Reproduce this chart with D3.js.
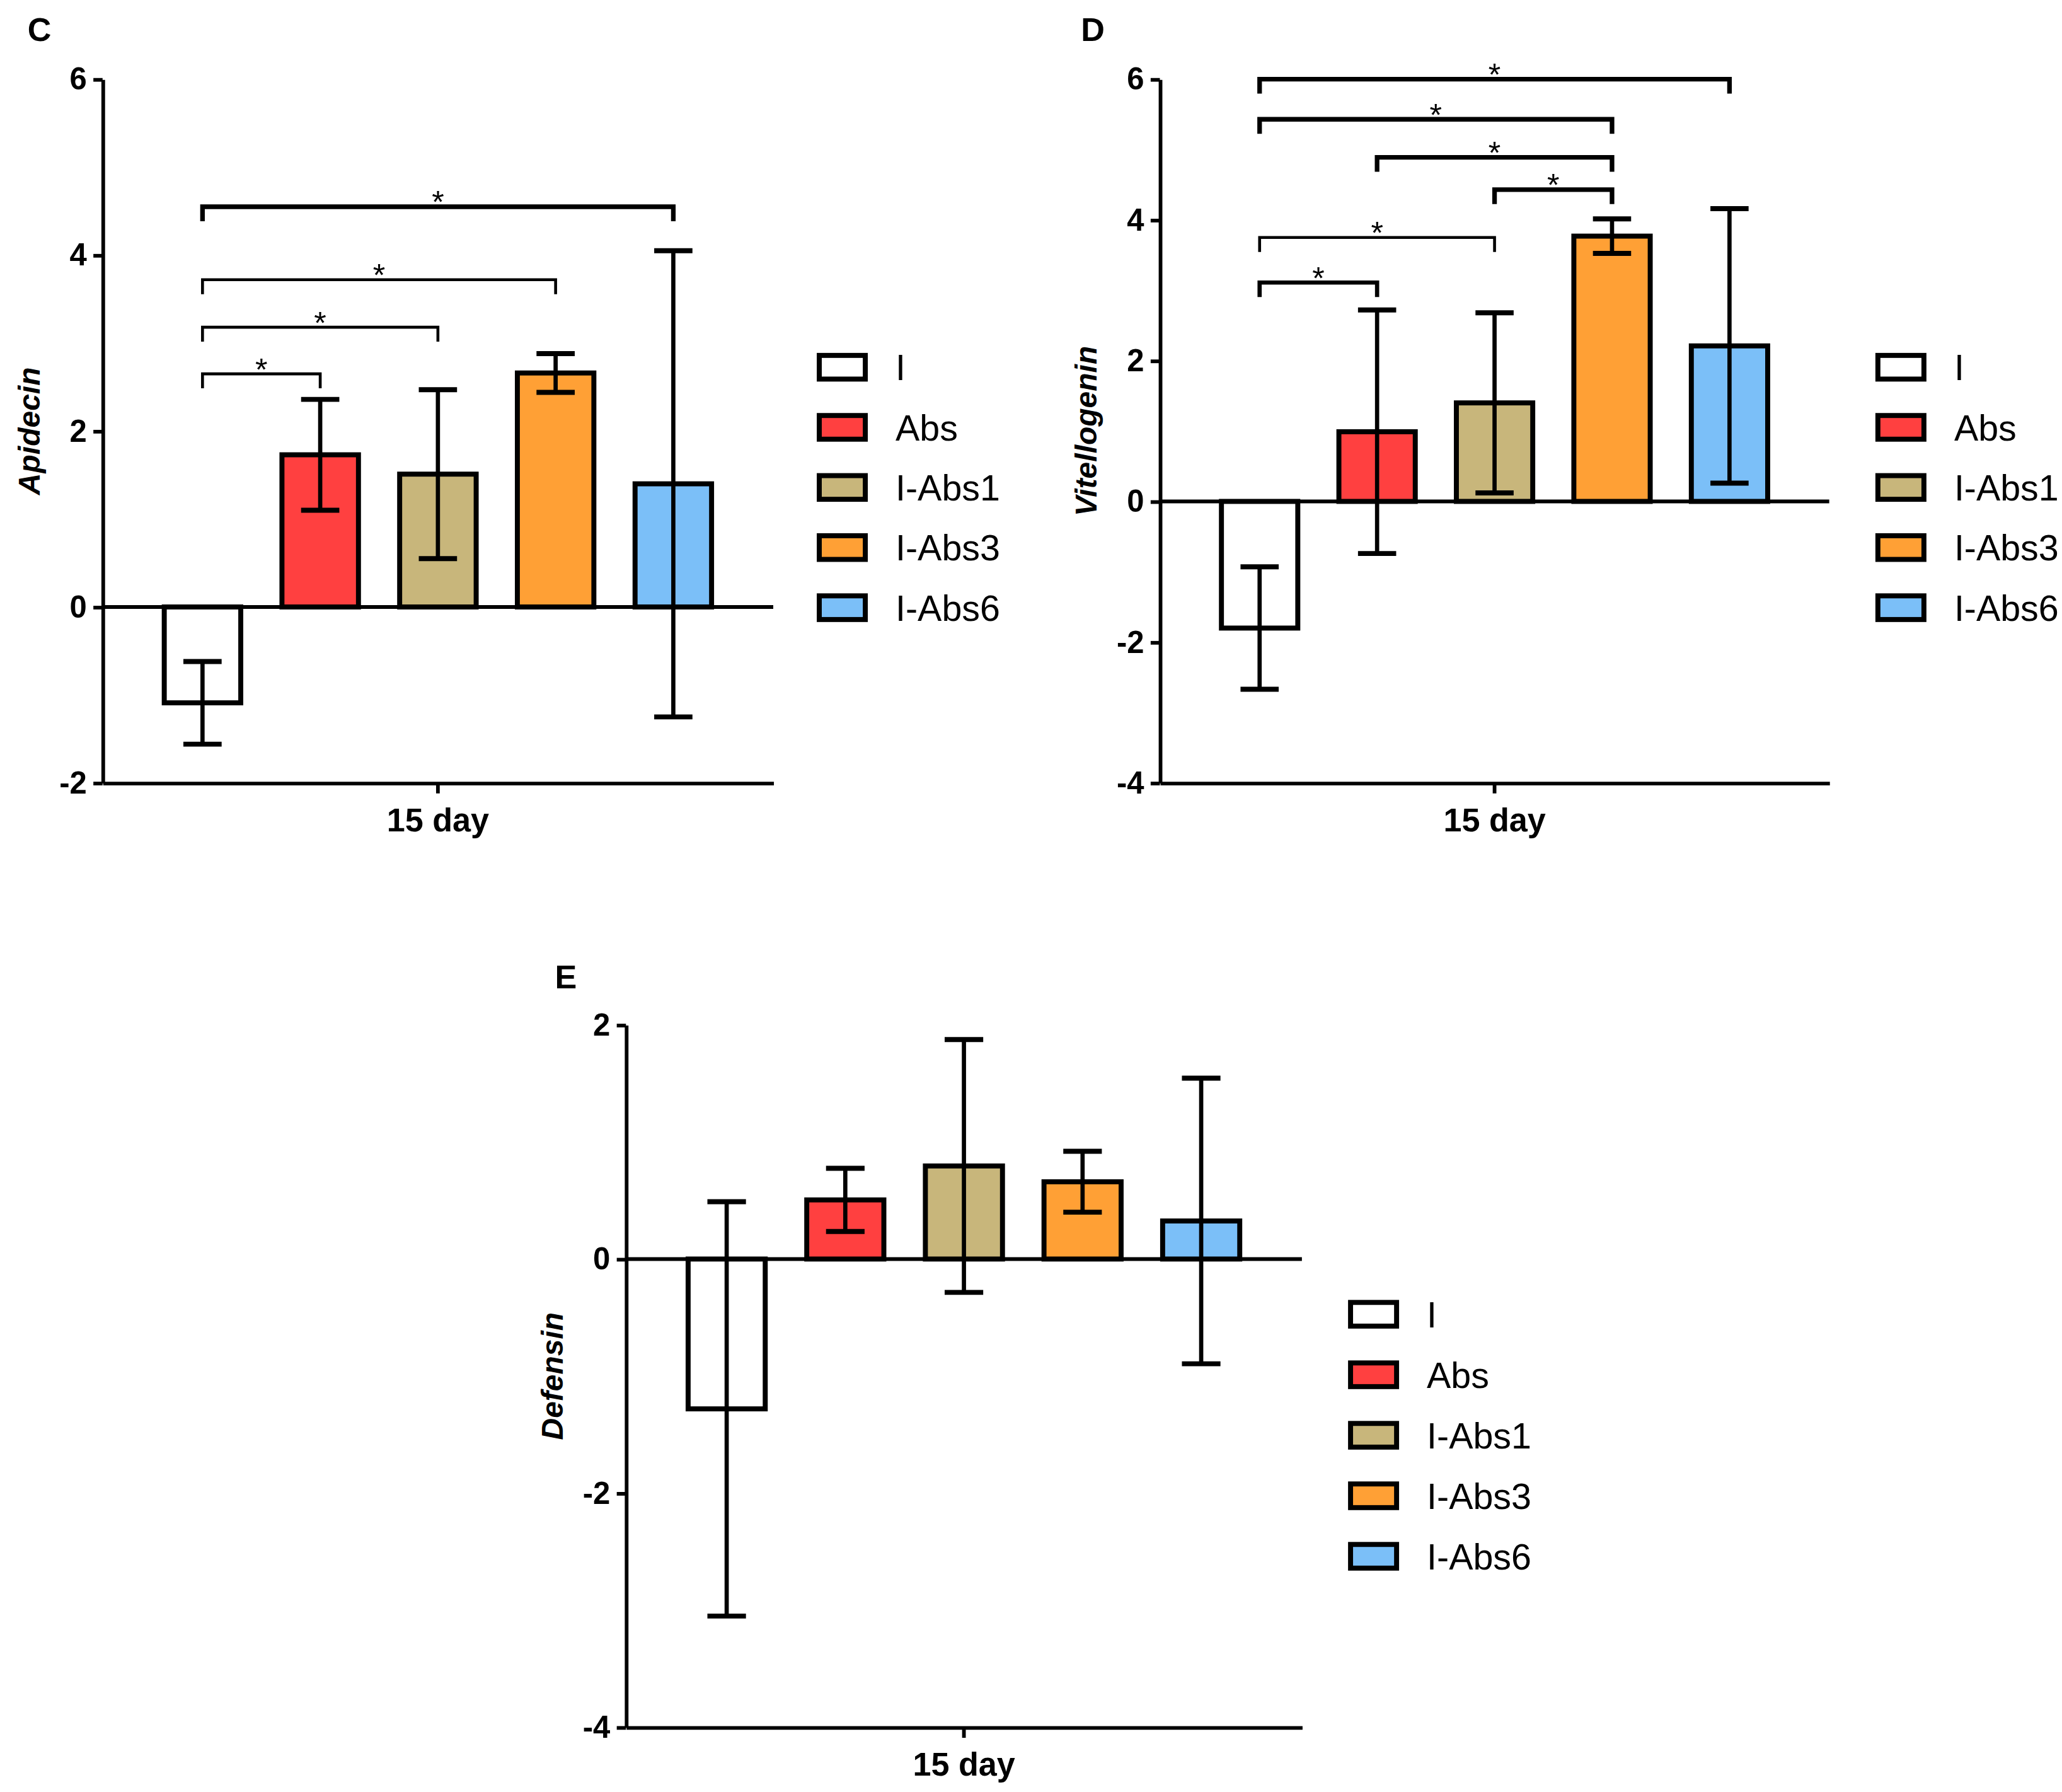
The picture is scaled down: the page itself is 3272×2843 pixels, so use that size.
<!DOCTYPE html>
<html>
<head>
<meta charset="utf-8">
<script src="https://cdn.jsdelivr.net/npm/d3@7/dist/d3.min.js"></script>
<style>
  body { margin: 0; background: #fff; }
  text { font-family: "Liberation Sans", Arial, sans-serif; fill: #000; }
</style>
</head>
<body>
<div id="chart"></div>
<script>
// groups and their fills, shared by the three panels
const groups = ["I", "Abs", "I-Abs1", "I-Abs3", "I-Abs6"];
const groupColors = ["#ffffff", "#ff4040", "#c8b67b", "#ffa035", "#7bbff8"];
const dayLabel = "15 day";

// C - Apidecin
const apidecinMean = [-1.09, 1.73, 1.51, 2.66, 1.40];
const apidecinErr = [0.47, 0.63, 0.96, 0.22, 2.65];
const apidecinTicks = [-2, 0, 2, 4, 6];
const apidecinBrackets = [
  ["I", "Abs", 2.65],
  ["I", "I-Abs1", 3.18],
  ["I", "I-Abs3", 3.72],
  ["I", "I-Abs6", 4.55],
];

// D - Vitellogenin
const vitellogeninMean = [-1.80, 0.99, 1.40, 3.77, 2.21];
const vitellogeninErr = [0.87, 1.73, 1.28, 0.245, 1.95];
const vitellogeninTicks = [-4, -2, 0, 2, 4, 6];
const vitellogeninBrackets = [
  ["I", "Abs", 3.11],
  ["I", "I-Abs1", 3.75],
  ["I-Abs1", "I-Abs3", 4.43],
  ["Abs", "I-Abs3", 4.89],
  ["I", "I-Abs3", 5.43],
  ["I", "I-Abs6", 6.0],
];

// E - Defensin
const defensinMean = [-1.28, 0.505, 0.795, 0.66, 0.325];
const defensinErr = [1.77, 0.27, 1.08, 0.26, 1.22];
const defensinTicks = [-4, -2, 0, 2];
const defensinBrackets = [];

// drawing is done in a 1568x1362 box, scaled up to the page
const W = 1568, H = 1362;
const svg = d3.select("#chart")
  .append("svg")
  .attr("width", 3272)
  .attr("height", 2843)
  .attr("viewBox", `0 0 ${W} ${H}`);

const color = d3.scaleOrdinal().domain(groups).range(groupColors);

function drawPanel(p) {
  const g = svg.append("g");

  const y = d3.scaleLinear()
    .domain(d3.extent(p.ticks))
    .range([p.bottom, p.top]);
  const x = d3.scaleBand()
    .domain(groups)
    .range([p.left, p.right])
    .paddingInner(0.35)
    .paddingOuter(0.524);

  const rows = groups.map((k, i) => ({ key: k, mean: p.mean[i], err: p.err[i] }));

  // bars from zero
  g.selectAll("rect.bar")
    .data(rows)
    .join("rect")
    .attr("class", "bar")
    .attr("x", (d) => x(d.key))
    .attr("width", x.bandwidth())
    .attr("y", (d) => Math.min(y(0), y(d.mean)))
    .attr("height", (d) => Math.abs(y(d.mean) - y(0)))
    .attr("fill", (d) => color(d.key))
    .attr("stroke", "#000")
    .attr("stroke-width", 3.8);

  // zero line
  g.append("line")
    .attr("x1", p.left)
    .attr("x2", p.right)
    .attr("y1", y(0))
    .attr("y2", y(0))
    .attr("stroke", "#000")
    .attr("stroke-width", 2.9);

  // error bars (mean +/- err)
  const cap = x.bandwidth() * 0.25;
  const eb = g.selectAll("g.err").data(rows).join("g").attr("class", "err");
  eb.append("line")
    .attr("x1", (d) => x(d.key) + x.bandwidth() / 2)
    .attr("x2", (d) => x(d.key) + x.bandwidth() / 2)
    .attr("y1", (d) => y(d.mean + d.err))
    .attr("y2", (d) => y(d.mean - d.err))
    .attr("stroke", "#000")
    .attr("stroke-width", 3.2);
  [1, -1].forEach((s) => {
    eb.append("line")
      .attr("x1", (d) => x(d.key) + x.bandwidth() / 2 - cap)
      .attr("x2", (d) => x(d.key) + x.bandwidth() / 2 + cap)
      .attr("y1", (d) => y(d.mean + s * d.err))
      .attr("y2", (d) => y(d.mean + s * d.err))
      .attr("stroke", "#000")
      .attr("stroke-width", 3.8);
  });

  // significance brackets
  p.brackets.forEach((b, i) => {
    const x1 = x(b[0]) + x.bandwidth() / 2;
    const x2 = x(b[1]) + x.bandwidth() / 2;
    const yb = y(b[2]);
    g.append("path")
      .attr("d", `M${x1},${yb + 11}V${yb}H${x2}V${yb + 11}`)
      .attr("fill", "none")
      .attr("stroke", "#000")
      .attr("stroke-width", p.bracketWidths[i]);
    g.append("text")
      .attr("x", (x1 + x2) / 2)
      .attr("y", yb - 6)
      .attr("dy", "0.46em")
      .attr("text-anchor", "middle")
      .style("font-size", "24px")
      .text("*");
  });

  // y axis, plain hyphen for negatives
  const yAxis = g.append("g")
    .attr("transform", `translate(${p.left},0)`)
    .call(
      d3.axisLeft(y)
        .tickValues(p.ticks)
        .tickFormat((d) => String(d))
        .tickSize(7)
        .tickSizeOuter(0)
        .tickPadding(5)
    );
  yAxis.select(".domain").attr("stroke-width", 2.8);
  yAxis.selectAll(".tick line").attr("stroke-width", 2.8);
  yAxis.selectAll(".tick text")
    .style("font-size", "23.5px")
    .style("font-weight", "bold")
    .attr("font-family", null);

  // x axis, one category
  const xDay = d3.scaleBand().domain([dayLabel]).range([p.left, p.right]);
  const xAxis = g.append("g")
    .attr("transform", `translate(0,${p.bottom})`)
    .call(d3.axisBottom(xDay).tickSize(8).tickSizeOuter(0).tickPadding(11));
  xAxis.select(".domain").attr("stroke-width", 2.8);
  xAxis.selectAll(".tick line").attr("stroke-width", 2.8);
  xAxis.selectAll(".tick text")
    .style("font-size", "25px")
    .style("font-weight", "bold")
    .attr("font-family", null);

  // y axis title
  g.append("text")
    .attr("transform", `translate(${p.left - 56},${(p.top + p.bottom) / 2}) rotate(-90)`)
    .attr("dy", "0.35em")
    .attr("text-anchor", "middle")
    .style("font-size", "23px")
    .style("font-weight", "bold")
    .style("font-style", "italic")
    .text(p.title);

  // panel letter
  g.append("text")
    .attr("x", p.letterX)
    .attr("y", p.letterY)
    .style("font-size", "25px")
    .style("font-weight", "bold")
    .text(p.letter);

  // legend
  const leg = g.selectAll("g.leg")
    .data(groups)
    .join("g")
    .attr("class", "leg")
    .attr("transform", (d, i) => `translate(${p.legendX},${p.legendY + i * p.legendStep})`);
  leg.append("rect")
    .attr("x", 2)
    .attr("y", -9)
    .attr("width", 35)
    .attr("height", 18)
    .attr("fill", (d) => color(d))
    .attr("stroke", "#000")
    .attr("stroke-width", 3.8);
  leg.append("text")
    .attr("x", 60)
    .attr("dy", "0.36em")
    .style("font-size", "27.5px")
    .text((d) => d);
}

drawPanel({
  letter: "C", letterX: 21, letterY: 31,
  title: "Apidecin",
  mean: apidecinMean, err: apidecinErr, ticks: apidecinTicks,
  brackets: apidecinBrackets, bracketWidths: [2.2, 2.2, 2.2, 3.5],
  left: 78, right: 588, top: 60, bottom: 595,
  legendX: 621, legendY: 279, legendStep: 45.7,
});

drawPanel({
  letter: "D", letterX: 822, letterY: 31,
  title: "Vitellogenin",
  mean: vitellogeninMean, err: vitellogeninErr, ticks: vitellogeninTicks,
  brackets: vitellogeninBrackets, bracketWidths: [3.2, 2.2, 3.5, 3.5, 3.5, 3.5],
  left: 882, right: 1391, top: 60, bottom: 595,
  legendX: 1426, legendY: 279, legendStep: 45.7,
});

drawPanel({
  letter: "E", letterX: 422, letterY: 751,
  title: "Defensin",
  mean: defensinMean, err: defensinErr, ticks: defensinTicks,
  brackets: defensinBrackets, bracketWidths: [],
  left: 476, right: 990, top: 779, bottom: 1313,
  legendX: 1025, legendY: 999, legendStep: 46,
});
</script>
</body>
</html>
